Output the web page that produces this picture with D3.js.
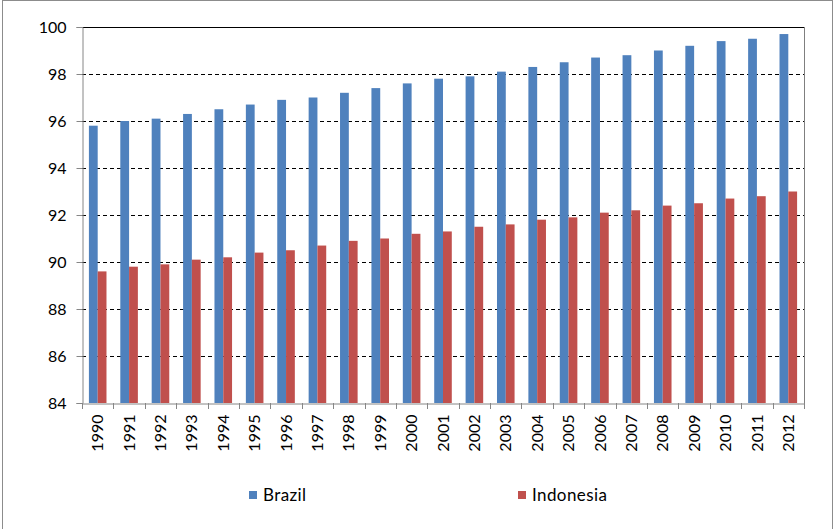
<!DOCTYPE html>
<html>
<head>
<meta charset="utf-8">
<script src="https://cdn.jsdelivr.net/npm/d3@7"></script>
<style>
  body { margin: 0; background: #fff; }
  svg { display: block; font-family: Lato, "Open Sans", sans-serif; }
</style>
</head>
<body>
<svg width="836" height="529"></svg>
<script>
var years = ["1990","1991","1992","1993","1994","1995","1996","1997","1998","1999","2000","2001",
             "2002","2003","2004","2005","2006","2007","2008","2009","2010","2011","2012"];
var seriesNames = ["Brazil", "Indonesia"];
var brazil = [95.8,96.0,96.1,96.3,96.5,96.7,96.9,97.0,97.2,97.4,97.6,97.8,
              97.9,98.1,98.3,98.5,98.7,98.8,99.0,99.2,99.4,99.5,99.7];
var indonesia = [89.6,89.8,89.9,90.1,90.2,90.4,90.5,90.7,90.9,91.0,91.2,91.3,
                 91.5,91.6,91.8,91.9,92.1,92.2,92.4,92.5,92.7,92.8,93.0];
var yTicks = [84, 86, 88, 90, 92, 94, 96, 98, 100];
var colors = ["#4F81BD", "#C0504D"];

var svg = d3.select("svg"),
    width = +svg.attr("width"),
    height = +svg.attr("height");

var margin = {left: 82, right: 32, top: 27, bottom: 126};
var plotW = width - margin.left - margin.right,
    plotH = height - margin.top - margin.bottom;

// outer frame
svg.append("rect")
    .attr("x", 2.5).attr("y", 0.5)
    .attr("width", 830).attr("height", 540)
    .attr("fill", "none").attr("stroke", "#8c8c8c");

var x = d3.scaleBand().domain(years).range([margin.left, margin.left + plotW]);
var bw = x.bandwidth();
var groupW = bw * 0.56;
var x1 = d3.scaleBand().domain(seriesNames)
    .range([(bw - groupW) / 2, (bw + groupW) / 2]);
var y = d3.scaleLinear().domain([84, 100]).range([margin.top + plotH, margin.top]);

// gridlines
svg.append("g")
  .selectAll("line")
  .data(yTicks.filter(function(t) { return t > 84; }))
  .enter().append("line")
    .attr("x1", margin.left).attr("x2", margin.left + plotW)
    .attr("y1", function(d) { return Math.round(y(d)) + 0.5; })
    .attr("y2", function(d) { return Math.round(y(d)) + 0.5; })
    .attr("stroke", "#000")
    .attr("stroke-dasharray", function(d) { return d === 100 ? null : "4,3"; });

// bars
var data = years.map(function(yr, i) {
  return {year: yr, values: [
    {name: "Brazil", value: brazil[i]},
    {name: "Indonesia", value: indonesia[i]}
  ]};
});

var groups = svg.append("g").selectAll("g")
    .data(data)
    .enter().append("g")
      .attr("transform", function(d) { return "translate(" + x(d.year) + ",0)"; });

groups.selectAll("rect")
    .data(function(d) { return d.values; })
    .enter().append("rect")
      .attr("x", function(d) { return x1(d.name); })
      .attr("width", x1.bandwidth())
      .attr("y", function(d) { return y(d.value); })
      .attr("height", function(d) { return y(84) - y(d.value); })
      .attr("fill", function(d, i) { return colors[i]; });

// right border of plot area
svg.append("line")
    .attr("x1", margin.left + plotW + 0.5).attr("x2", margin.left + plotW + 0.5)
    .attr("y1", margin.top).attr("y2", margin.top + plotH)
    .attr("stroke", "#7f7f7f");

// y axis
var yAxis = svg.append("g")
    .attr("transform", "translate(" + (margin.left + 0.5) + ",0)")
    .call(d3.axisLeft(y).tickValues(yTicks).tickSize(6).tickPadding(10).tickFormat(d3.format("d")));
yAxis.select(".domain").attr("stroke", "#868686");
yAxis.selectAll(".tick line").attr("stroke", "#868686");
yAxis.selectAll("text").attr("font-size", "16px").attr("fill", "#000")
    .style("font-family", "Lato, 'Open Sans', sans-serif");

// x axis
var xAxis = svg.append("g")
    .attr("transform", "translate(0," + (margin.top + plotH + 0.5) + ")")
    .call(d3.axisBottom(x).tickSize(0).tickSizeOuter(0).tickPadding(0));
xAxis.select(".domain").attr("stroke", "#868686");
xAxis.selectAll("text")
    .attr("font-size", "16px").attr("fill", "#000")
    .style("font-family", "Lato, 'Open Sans', sans-serif")
    .attr("text-anchor", "end")
    .attr("transform", "rotate(-90)")
    .attr("x", -11).attr("y", 0).attr("dy", "0.35em");

// category boundary ticks
svg.append("g")
  .selectAll("line")
  .data(d3.range(years.length + 1))
  .enter().append("line")
    .attr("x1", function(i) { return Math.round(margin.left + i * bw) + 0.5; })
    .attr("x2", function(i) { return Math.round(margin.left + i * bw) + 0.5; })
    .attr("y1", margin.top + plotH)
    .attr("y2", margin.top + plotH + 6)
    .attr("stroke", "#868686");

// legend
var legendX = [249, 518];
var legend = svg.append("g").selectAll("g")
    .data(seriesNames)
    .enter().append("g")
      .attr("transform", function(d, i) { return "translate(" + legendX[i] + ",491)"; });
legend.append("rect")
    .attr("width", 8).attr("height", 8)
    .attr("fill", function(d, i) { return colors[i]; });
legend.append("text")
    .attr("x", 14).attr("y", 4).attr("dy", "0.35em")
    .attr("font-size", "17px")
    .attr("letter-spacing", "0.4px")
    .text(function(d) { return d; });
</script>
</body>
</html>
